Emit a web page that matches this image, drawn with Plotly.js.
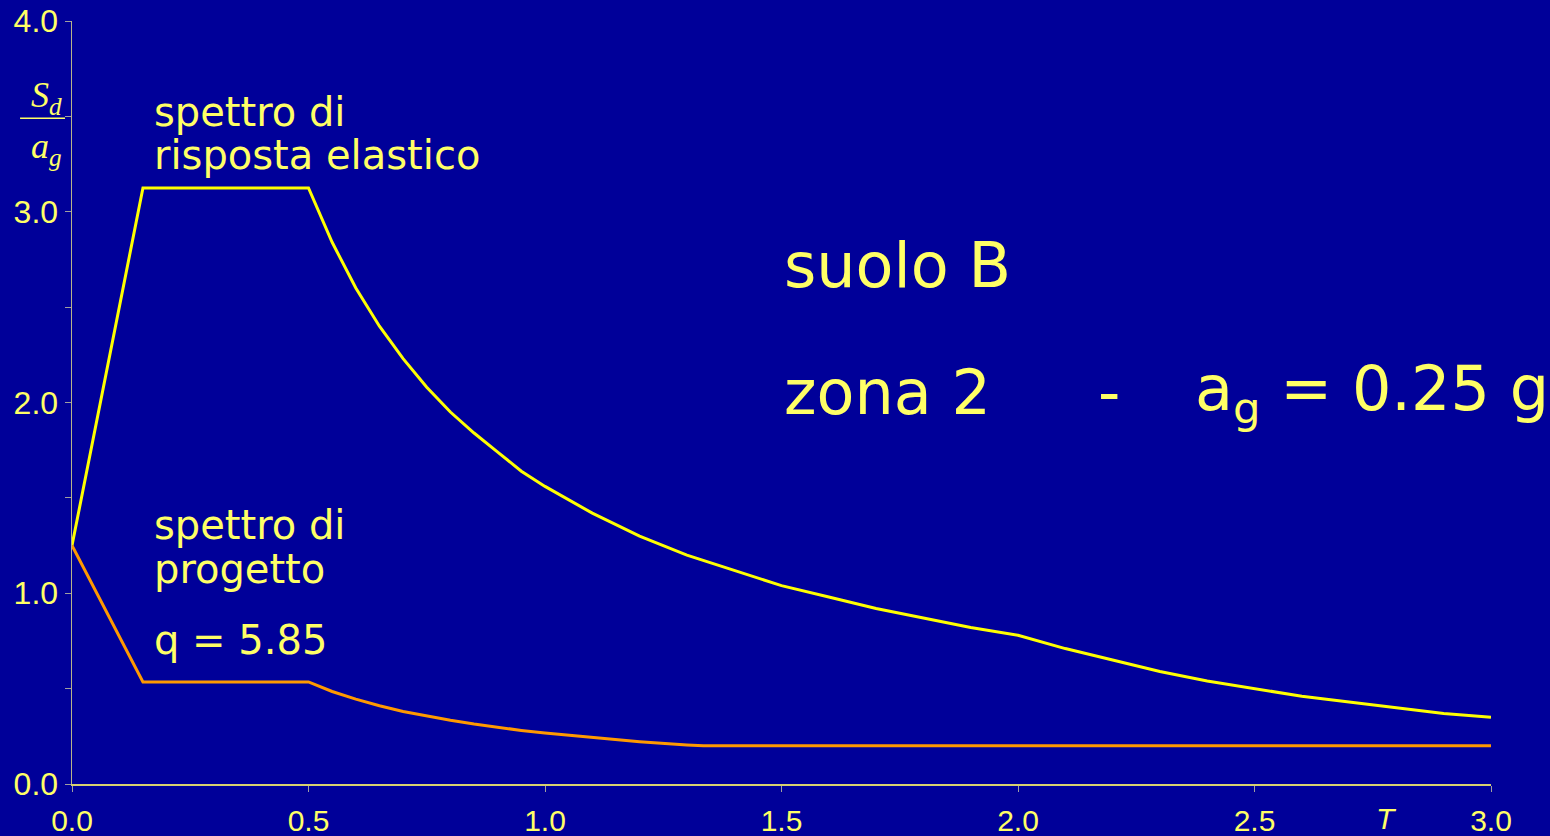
<!DOCTYPE html>
<html>
<head>
<meta charset="utf-8">
<script src="https://cdn.plot.ly/plotly-3.0.1.min.js"></script>
<style>
  html, body { margin: 0; padding: 0; background: #000099; }
  #chart { width: 1550px; height: 836px; }
</style>
</head>
<body>
<div id="chart"></div>
<script>
// Periods T (s) and spectral ordinates Sd/ag
const elasticT = [0.0, 0.15, 0.5, 0.55, 0.6, 0.65, 0.7, 0.75, 0.8, 0.85, 0.9, 0.95, 1.0, 1.1, 1.2, 1.3, 1.4, 1.5, 1.6, 1.7, 1.8, 1.9, 2.0, 2.1, 2.2, 2.3, 2.4, 2.5, 2.6, 2.7, 2.8, 2.9, 3.0];
const elasticS = [1.25, 3.125, 3.125, 2.84, 2.60, 2.40, 2.23, 2.08, 1.95, 1.84, 1.74, 1.64, 1.56, 1.42, 1.30, 1.20, 1.12, 1.04, 0.98, 0.92, 0.87, 0.82, 0.78, 0.71, 0.65, 0.59, 0.54, 0.50, 0.46, 0.43, 0.40, 0.37, 0.35];

const designT = [0.0, 0.15, 0.5, 0.55, 0.6, 0.65, 0.7, 0.75, 0.8, 0.85, 0.9, 0.95, 1.0, 1.1, 1.2, 1.3, 1.335, 1.5, 2.0, 2.5, 3.0];
const designS = [1.25, 0.535, 0.535, 0.485, 0.445, 0.41, 0.38, 0.356, 0.334, 0.314, 0.297, 0.281, 0.267, 0.243, 0.222, 0.205, 0.2, 0.2, 0.2, 0.2, 0.2];

const xTickVals = [0, 0.5, 1.0, 1.5, 2.0, 2.5, 3.0];
const xTickText = ['0.0', '0.5', '1.0', '1.5', '2.0', '2.5', '3.0'];
const yTickVals = [0, 1, 2, 3, 4];
const yTickText = ['0.0', '1.0', '2.0', '3.0', '4.0'];

const labelElastic1 = 'spettro di';
const labelElastic2 = 'risposta elastico';
const labelDesign1 = 'spettro di';
const labelDesign2 = 'progetto';
const labelQ = 'q = 5.85';
const labelSoil = 'suolo B';
const labelZone = 'zona 2';
const labelDash = '-';
const labelAg = 'a<sub>g</sub> = 0.25 g';

const txtColor = '#ffff66';
const txtFont = 'DejaVu Sans, Noto Sans, sans-serif';

const traces = [
  { x: elasticT, y: elasticS, mode: 'lines', line: { color: '#ffff00', width: 3 }, hoverinfo: 'skip' },
  { x: designT, y: designS, mode: 'lines', line: { color: '#ff9900', width: 3 }, hoverinfo: 'skip' }
];

const ann = (x, y, text, size, extra) => Object.assign({
  x: x, y: y, xref: 'x', yref: 'y', text: text, showarrow: false,
  xanchor: 'left', yanchor: 'middle', align: 'left',
  font: { family: txtFont, size: size, color: txtColor }
}, extra || {});

const layout = {
  width: 1550, height: 836,
  paper_bgcolor: '#000099', plot_bgcolor: '#000099',
  margin: { l: 72, r: 59, t: 21, b: 52 },
  showlegend: false,
  xaxis: {
    range: [0, 3], showgrid: false, zeroline: false,
    showline: true, linecolor: '#d8d070', linewidth: 1.5,
    ticks: 'outside', ticklen: 6, tickcolor: '#a0a0a0', tickwidth: 1,
    tickvals: xTickVals, ticktext: xTickText,
    ticklabelstandoff: 3,
    tickfont: { family: 'Liberation Sans, Arial, sans-serif', size: 30, color: txtColor }
  },
  yaxis: {
    range: [0, 4], showgrid: false, zeroline: false,
    showline: true, linecolor: '#b8b48a', linewidth: 1.5,
    ticks: 'outside', ticklen: 6, tickcolor: '#a0a0a0', tickwidth: 1,
    tickvals: yTickVals, ticktext: yTickText,
    minor: { dtick: 0.5, ticks: 'outside', ticklen: 6, tickcolor: '#a0a0a0', showgrid: false },
    tickfont: { family: 'Liberation Sans, Arial, sans-serif', size: 32, color: txtColor }
  },
  annotations: [
    ann(0.17, 3.523, labelElastic1, 40),
    ann(0.17, 3.297, labelElastic2, 40),
    ann(0.17, 1.357, labelDesign1, 40),
    ann(0.17, 1.128, labelDesign2, 40),
    ann(0.17, 0.755, labelQ, 40),
    ann(1.5, 2.72, labelSoil, 62),
    ann(1.5, 2.05, labelZone, 62),
    ann(2.165, 2.05, labelDash, 62),
    ann(2.37, 2.05, labelAg, 62),
    { x: 2.78, y: 0, xref: 'x', yref: 'paper', yshift: -34, text: '<i>T</i>', showarrow: false,
      xanchor: 'center', yanchor: 'middle',
      font: { family: 'Liberation Sans, Arial, sans-serif', size: 30, color: txtColor } },
    { x: -0.018, xref: 'paper', y: 3.60, yref: 'y', text: '<i>S<sub>d</sub></i>', showarrow: false,
      xanchor: 'center', yanchor: 'middle',
      font: { family: 'Liberation Serif, Times New Roman, serif', size: 36, color: txtColor } },
    { x: -0.018, xref: 'paper', y: 3.33, yref: 'y', text: '<i>a<sub>g</sub></i>', showarrow: false,
      xanchor: 'center', yanchor: 'middle',
      font: { family: 'Liberation Serif, Times New Roman, serif', size: 36, color: txtColor } }
  ],
  shapes: [
    { type: 'line', xref: 'paper', yref: 'y', x0: -0.0366, x1: -0.0049, y0: 3.49, y1: 3.49,
      line: { color: txtColor, width: 1.5 } }
  ]
};

Plotly.newPlot('chart', traces, layout, { displayModeBar: false, staticPlot: true });
</script>
</body>
</html>
